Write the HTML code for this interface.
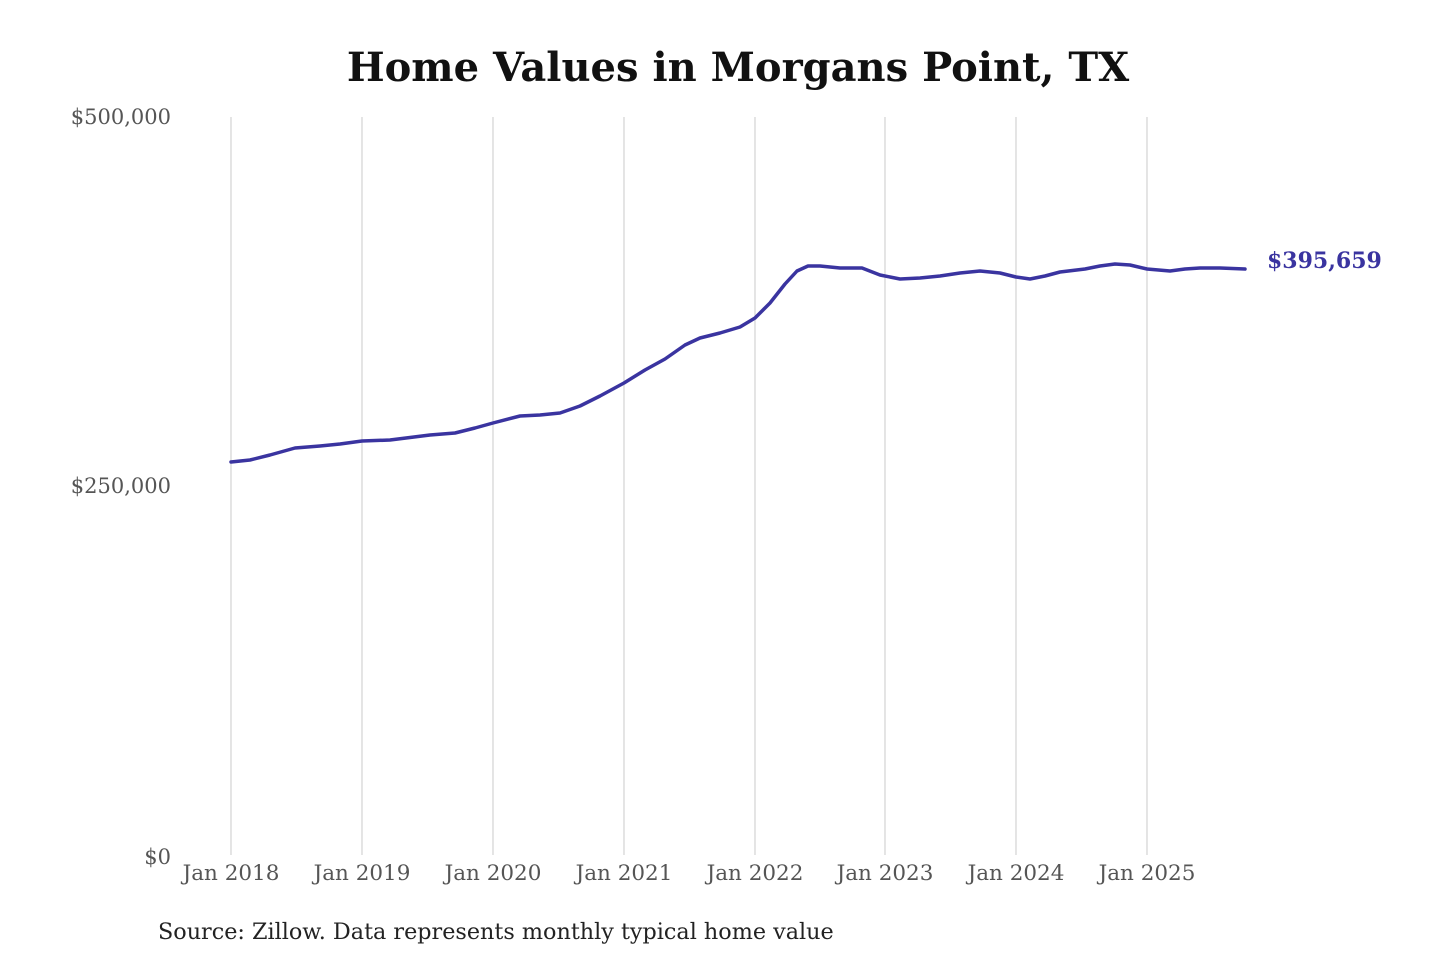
<!DOCTYPE html>
<html><head><meta charset="utf-8"><style>
html,body{margin:0;padding:0;background:#fff;width:1440px;height:960px;overflow:hidden}
svg{display:block}
</style></head><body>
<svg width="1440" height="960" xmlns="http://www.w3.org/2000/svg" font-family="'DejaVu Serif','Liberation Serif',serif">
<text x="738" y="81" text-anchor="middle" font-size="40" font-weight="bold" fill="#111">Home Values in Morgans Point, TX</text>
<g stroke="#cfcfcf" stroke-width="1.1">
<line x1="231" y1="117" x2="231" y2="855"/><line x1="362" y1="117" x2="362" y2="855"/>
<line x1="493" y1="117" x2="493" y2="855"/><line x1="624" y1="117" x2="624" y2="855"/>
<line x1="755" y1="117" x2="755" y2="855"/><line x1="885" y1="117" x2="885" y2="855"/>
<line x1="1016" y1="117" x2="1016" y2="855"/><line x1="1147" y1="117" x2="1147" y2="855"/>
</g>
<g font-size="21" fill="#555" text-anchor="end">
<text x="171" y="124">$500,000</text>
<text x="171" y="493">$250,000</text>
<text x="171" y="864">$0</text>
</g>
<g font-size="21.5" fill="#555" text-anchor="middle">
<text x="231" y="880">Jan 2018</text><text x="362" y="880">Jan 2019</text>
<text x="493" y="880">Jan 2020</text><text x="624" y="880">Jan 2021</text>
<text x="755" y="880">Jan 2022</text><text x="885" y="880">Jan 2023</text>
<text x="1016" y="880">Jan 2024</text><text x="1147" y="880">Jan 2025</text>
</g>
<polyline fill="none" stroke="#3a34a0" stroke-width="3.5" stroke-linejoin="round" stroke-linecap="round" points="231,462 250,460 270,455 295,448 320,446 340,444 362,441 390,440 430,435 455,433 475,428 493,423 520,416 540,415 560,413 580,406 600,396 624,383 645,370 665,359 685,345 700,338 720,333 740,327 755,318 770,303 785,284 797,271 808,266 820,266 840,268 862,268 880,275 900,279 920,278 940,276 960,273 980,271 1000,273 1016,277 1030,279 1045,276 1060,272 1085,269 1100,266 1115,264 1130,265 1147,269 1170,271 1185,269 1200,268 1220,268 1245,269"/>
<text x="1267" y="268" font-size="22" font-weight="bold" fill="#3a34a0">$395,659</text>
<text x="158" y="939" font-size="22.3" fill="#222">Source: Zillow. Data represents monthly typical home value</text>
</svg>
</body></html>
